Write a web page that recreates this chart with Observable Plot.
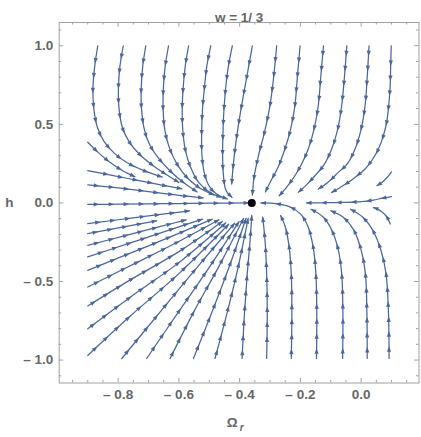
<!DOCTYPE html>
<html><head><meta charset="utf-8">
<script src="https://cdn.jsdelivr.net/npm/d3@7"></script>
<script src="https://cdn.jsdelivr.net/npm/@observablehq/plot@0.6"></script>
<style>
html,body{margin:0;padding:0;background:#fff}
#chart{width:421px;height:437px}
</style></head>
<body><div id="chart"></div>
<script>
// ---- text ----
const title = "w = 1/ 3";
const xLabel = "Ω";
const xLabelSub = "r";
const yLabel = "h";
// ---- ticks ----
const xTicks = [-0.8, -0.6, -0.4, -0.2, 0.0];
const yTicks = [-1.0, -0.5, 0.0, 0.5, 1.0];
const xMinorTicks = [-0.95, -0.9, -0.85, -0.75, -0.7, -0.65, -0.55, -0.5, -0.45, -0.35, -0.3, -0.25, -0.15, -0.1, -0.05, 0.05, 0.1, 0.15];
const yMinorTicks = [-1.1, -0.9, -0.8, -0.7, -0.6, -0.4, -0.3, -0.2, -0.1, 0.1, 0.2, 0.3, 0.4, 0.6, 0.7, 0.8, 0.9, 1.1];
const xDomain = [-0.994, 0.1905];
const yDomain = [-1.146, 1.148];
// ---- fixed point ----
const fixedPoint = [[-0.36, 0.0]];
// ---- streamlines (Ω_r, h), listed in flow direction ----
const upperLeftStreams = [
  [[-0.867,1.0],[-0.877,0.87],[-0.883,0.73],[-0.880,0.60],[-0.868,0.48],[-0.846,0.39],[-0.812,0.315],[-0.77,0.255],[-0.715,0.205],[-0.655,0.165]],
  [[-0.783,1.0],[-0.794,0.87],[-0.799,0.73],[-0.797,0.60],[-0.786,0.48],[-0.764,0.39],[-0.73,0.31],[-0.69,0.245],[-0.645,0.185],[-0.60,0.13]],
  [[-0.709,1.0],[-0.719,0.87],[-0.724,0.73],[-0.723,0.60],[-0.714,0.47],[-0.696,0.37],[-0.665,0.28],[-0.627,0.2],[-0.585,0.13],[-0.54,0.07]],
  [[-0.634,1.0],[-0.645,0.87],[-0.651,0.73],[-0.652,0.60],[-0.646,0.46],[-0.631,0.35],[-0.607,0.25],[-0.575,0.165],[-0.535,0.10],[-0.485,0.05]],
  [[-0.568,1.0],[-0.579,0.87],[-0.586,0.73],[-0.589,0.60],[-0.587,0.46],[-0.578,0.33],[-0.56,0.22],[-0.535,0.13],[-0.50,0.07],[-0.46,0.035]],
  [[-0.495,1.0],[-0.508,0.87],[-0.516,0.73],[-0.522,0.60],[-0.525,0.45],[-0.524,0.30],[-0.515,0.18],[-0.498,0.10],[-0.475,0.055],[-0.44,0.025]],
  [[-0.424,1.0],[-0.437,0.87],[-0.446,0.73],[-0.452,0.58],[-0.455,0.43],[-0.456,0.30],[-0.453,0.17],[-0.445,0.08],[-0.425,0.035]]
];
const upperRightStreams = [
  [[-0.358,1.0],[-0.372,0.85],[-0.387,0.69],[-0.402,0.52],[-0.414,0.36],[-0.422,0.22],[-0.426,0.12]],
  [[-0.278,1.0],[-0.288,0.80],[-0.300,0.62],[-0.318,0.45],[-0.338,0.30],[-0.352,0.17],[-0.358,0.05]],
  [[-0.201,1.0],[-0.210,0.80],[-0.218,0.62],[-0.232,0.47],[-0.251,0.343],[-0.275,0.22],[-0.294,0.152],[-0.315,0.07]],
  [[-0.124,1.0],[-0.133,0.80],[-0.141,0.62],[-0.155,0.47],[-0.174,0.343],[-0.198,0.24],[-0.218,0.173],[-0.245,0.10],[-0.27,0.045]],
  [[-0.047,1.0],[-0.055,0.80],[-0.064,0.62],[-0.077,0.47],[-0.097,0.343],[-0.123,0.24],[-0.152,0.173],[-0.18,0.115],[-0.207,0.067]],
  [[0.026,1.0],[0.02,0.80],[0.013,0.62],[0.0,0.47],[-0.02,0.343],[-0.045,0.25],[-0.075,0.194],[-0.11,0.13],[-0.141,0.088]],
  [[0.099,1.0],[0.097,0.85],[0.095,0.725],[0.084,0.513],[0.072,0.42],[0.057,0.343],[0.035,0.27],[0.013,0.216],[-0.015,0.17],[-0.042,0.131],[-0.07,0.097],[-0.097,0.067]]
];
const leftStreams = [
  [[-0.9,0.386],[-0.865,0.32],[-0.825,0.255],[-0.785,0.205],[-0.745,0.167]],
  [[-0.9,0.206],[-0.82,0.175],[-0.74,0.145],[-0.66,0.115],[-0.59,0.09]],
  [[-0.9,0.115],[-0.8,0.095],[-0.7,0.072],[-0.6,0.048],[-0.52,0.032]],
  [[-0.9,-0.01],[-0.8,-0.008],[-0.7,-0.006],[-0.6,-0.004],[-0.5,-0.002],[-0.37,0.0]],
  [[-0.9,-0.132],[-0.75,-0.095],[-0.62,-0.064],[-0.565,-0.05]],
  [[-0.9,-0.196],[-0.79,-0.156],[-0.673,-0.114]],
  [[-0.9,-0.27],[-0.78,-0.21],[-0.66,-0.15],[-0.576,-0.108]],
  [[-0.9,-0.344],[-0.77,-0.261],[-0.64,-0.178],[-0.522,-0.103]],
  [[-0.9,-0.429],[-0.76,-0.32],[-0.62,-0.21],[-0.49,-0.103]],
  [[-0.9,-0.535],[-0.76,-0.4],[-0.61,-0.255],[-0.468,-0.107]],
  [[-0.9,-0.656],[-0.76,-0.49],[-0.6,-0.31],[-0.457,-0.118]],
  [[-0.9,-0.801],[-0.76,-0.6],[-0.6,-0.38],[-0.446,-0.128]],
  [[-0.9,-0.971],[-0.76,-0.72],[-0.6,-0.45],[-0.436,-0.136]]
];
const lowerStreams = [
  [[-0.788,-0.99],[-0.66,-0.69],[-0.54,-0.41],[-0.416,-0.129]],
  [[-0.706,-0.99],[-0.60,-0.69],[-0.50,-0.41],[-0.402,-0.119]],
  [[-0.629,-0.99],[-0.55,-0.69],[-0.47,-0.41],[-0.387,-0.099]],
  [[-0.552,-0.99],[-0.49,-0.69],[-0.435,-0.41],[-0.379,-0.099]],
  [[-0.481,-0.99],[-0.44,-0.69],[-0.405,-0.41],[-0.372,-0.099]],
  [[-0.392,-0.99],[-0.384,-0.7],[-0.375,-0.45],[-0.366,-0.25],[-0.36,-0.08]],
  [[-0.311,-0.99],[-0.309,-0.7],[-0.311,-0.45],[-0.316,-0.25],[-0.324,-0.09]],
  [[-0.230,-0.99],[-0.228,-0.7],[-0.230,-0.45],[-0.237,-0.28],[-0.25,-0.15],[-0.265,-0.08]],
  [[-0.147,-0.99],[-0.146,-0.7],[-0.149,-0.45],[-0.158,-0.28],[-0.175,-0.15],[-0.2,-0.07],[-0.235,-0.025],[-0.28,-0.005],[-0.33,0.0]],
  [[-0.061,-0.99],[-0.060,-0.7],[-0.064,-0.45],[-0.075,-0.3],[-0.095,-0.18],[-0.125,-0.09],[-0.165,-0.04]],
  [[0.020,-0.99],[0.019,-0.7],[0.014,-0.45],[0.0,-0.3],[-0.025,-0.17],[-0.06,-0.09],[-0.1,-0.05]],
  [[0.092,-0.99],[0.090,-0.7],[0.082,-0.45],[0.065,-0.3],[0.04,-0.18],[0.005,-0.09],[-0.035,-0.04]]
];
const rightStreams = [
  [[0.10,0.197],[0.085,0.16],[0.068,0.13],[0.052,0.109]],
  [[0.10,0.04],[0.07,0.03],[0.04,0.018],[0.0,0.008],[-0.06,0.003],[-0.12,0.001],[-0.18,0.0]],
  [[0.096,-0.134],[0.085,-0.09],[0.07,-0.06],[0.053,-0.038],[0.04,-0.03]]
];

// ---- layout & style ----
const W = 421, H = 437;
const M = {top: 22, right: 2.5, bottom: 54.5, left: 58.7};
const streamColor = "#4a679c";
const frameColor = "#a0a0a0";
const textColor = "#666666";
const font = "'Liberation Sans', Arial, sans-serif";
const arrowSpacing = 15;

const sx = Plot.scale({x: {domain: xDomain, range: [M.left, W - M.right]}});
const sy = Plot.scale({y: {domain: yDomain, range: [H - M.bottom, M.top]}});
const dxPerPx = (xDomain[1] - xDomain[0]) / (W - M.left - M.right);
const dyPerPx = (yDomain[1] - yDomain[0]) / (H - M.top - M.bottom);

const streams = [...upperLeftStreams, ...upperRightStreams, ...leftStreams, ...lowerStreams, ...rightStreams];

// arrowheads along each streamline, measured on the same catmull-rom curve
const NS = "http://www.w3.org/2000/svg";
const tmpSvg = document.createElementNS(NS, "svg");
document.body.appendChild(tmpSvg);
const tmpPath = document.createElementNS(NS, "path");
tmpSvg.appendChild(tmpPath);
const lineGen = d3.line().curve(d3.curveCatmullRom);
const arrows = [];
for (const s of streams) {
  const pts = s.map(([a, b]) => [sx.apply(a), sy.apply(b)]);
  tmpPath.setAttribute("d", lineGen(pts));
  const L = tmpPath.getTotalLength();
  for (let t = L - 2.5; t > 5; t -= arrowSpacing) {
    const p = tmpPath.getPointAtLength(t);
    const p0 = tmpPath.getPointAtLength(Math.max(0, t - 2));
    const p1 = tmpPath.getPointAtLength(Math.min(L, t + 2));
    arrows.push({x: sx.invert(p.x), y: sy.invert(p.y), angle: Math.atan2(p1.y - p0.y, p1.x - p0.x) * 180 / Math.PI});
  }
}
tmpSvg.remove();

const arrowHead = {draw(ctx) { ctx.moveTo(3, 0); ctx.lineTo(-2.6, -2.1); ctx.lineTo(-2.6, 2.1); ctx.closePath(); }};

const fmt = d => (d < 0 ? "\u2013 " : "") + Math.abs(d).toFixed(1);
const textOpts = {fontSize: 13.5, fontWeight: "bold", fill: textColor, fontFamily: font};

function tickRules() {
  const marks = [];
  const [x0, x1] = xDomain, [y0, y1] = yDomain;
  const add = (vals, len) => {
    marks.push(Plot.ruleX(vals, {x: d => d, y1: y0, y2: y0 + len * dyPerPx, stroke: frameColor}));
    marks.push(Plot.ruleX(vals, {x: d => d, y1: y1, y2: y1 - len * dyPerPx, stroke: frameColor}));
  };
  const addY = (vals, len) => {
    marks.push(Plot.ruleY(vals, {y: d => d, x1: x0, x2: x0 + len * dxPerPx, stroke: frameColor}));
    marks.push(Plot.ruleY(vals, {y: d => d, x1: x1, x2: x1 - len * dxPerPx, stroke: frameColor}));
  };
  add(xTicks, 4.5); add(xMinorTicks, 2.5);
  addY(yTicks, 4.5); addY(yMinorTicks, 2.5);
  return marks;
}

const chart = Plot.plot({
  width: W, height: H,
  marginTop: M.top, marginRight: M.right, marginBottom: M.bottom, marginLeft: M.left,
  x: {domain: xDomain, axis: null},
  y: {domain: yDomain, axis: null},
  style: {background: "#fff", fontFamily: font},
  marks: [
    ...streams.map(s => Plot.line(s, {curve: "catmull-rom", stroke: streamColor, strokeWidth: 1.25})),
    Plot.dot(arrows, {x: "x", y: "y", rotate: "angle", symbol: arrowHead, fill: streamColor, stroke: "none"}),
    Plot.dot(fixedPoint, {r: 4, fill: "black"}),
    Plot.frame({stroke: frameColor}),
    ...tickRules(),
    Plot.text(xTicks, {x: d => d, frameAnchor: "bottom", dy: 16, text: fmt, ...textOpts}),
    Plot.text(yTicks, {y: d => d, frameAnchor: "left", dx: -6, textAnchor: "end", text: fmt, ...textOpts}),
    Plot.text([title], {frameAnchor: "top", dy: -10, text: d => d, ...textOpts}),
    Plot.text([yLabel], {frameAnchor: "left", dx: -54, text: d => d, ...textOpts}),
    Plot.text([xLabel], {frameAnchor: "bottom", dx: -7, dy: 44, text: d => d, ...textOpts}),
    Plot.text([xLabelSub], {frameAnchor: "bottom", dx: 2.5, dy: 48, text: d => d, ...textOpts, fontSize: 10, fontStyle: "italic"})
  ]
});
document.getElementById("chart").appendChild(chart);
</script>
</body></html>
